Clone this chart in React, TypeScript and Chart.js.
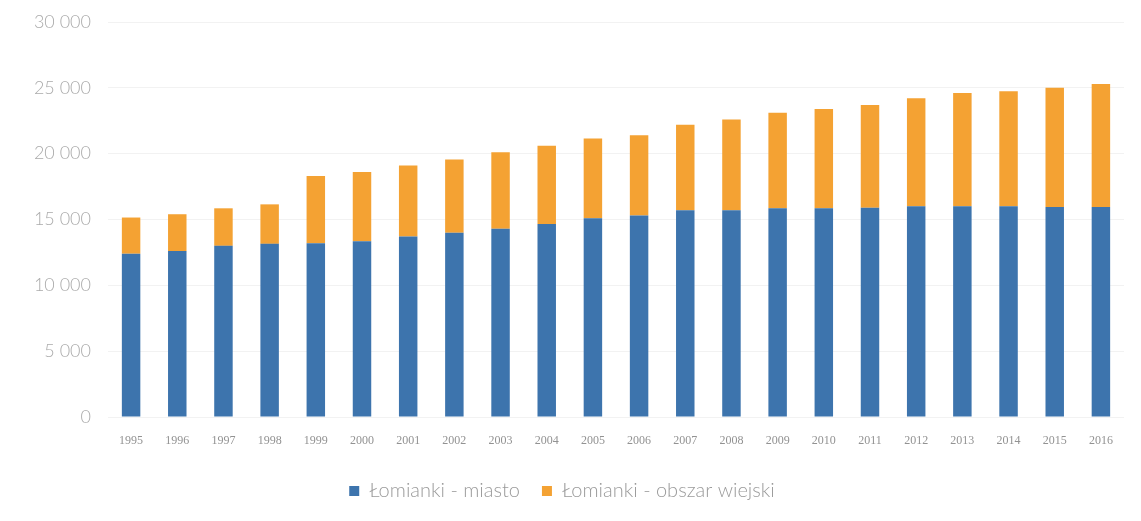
import React, { useEffect, useRef } from "react";
import { Chart, registerables } from "chart.js";

Chart.register(...registerables);

const years = ["1995","1996","1997","1998","1999","2000","2001","2002","2003","2004","2005","2006","2007","2008","2009","2010","2011","2012","2013","2014","2015","2016"];
const miasto = [12400, 12600, 13000, 13150, 13200, 13350, 13700, 14000, 14300, 14650, 15100, 15300, 15700, 15700, 15850, 15850, 15900, 16000, 16000, 16000, 15950, 15950];
const obszarWiejski = [2750, 2800, 2850, 3000, 5100, 5250, 5400, 5550, 5800, 5950, 6050, 6100, 6500, 6900, 7250, 7550, 7800, 8200, 8600, 8750, 9050, 9350];
const seriesNames = ["Łomianki - miasto", "Łomianki - obszar wiejski"];
const yMax = 30000;
const yStep = 5000;

function fmt(v: number): string {
  return String(v).replace(/\B(?=(\d{3})+(?!\d))/g, " ");
}

export default function App() {
  const ref = useRef<HTMLCanvasElement | null>(null);
  useEffect(() => {
    document.body.style.margin = "0";
    const ctx = ref.current!;
    const chart = new Chart(ctx, {
      type: "bar",
      data: {
        labels: years,
        datasets: [
          { label: seriesNames[0], data: miasto, backgroundColor: "#3d74ad", categoryPercentage: 1, barPercentage: 0.4 },
          { label: seriesNames[1], data: obszarWiejski, backgroundColor: "#f4a233", categoryPercentage: 1, barPercentage: 0.4 },
        ],
      },
      options: {
        animation: false,
        responsive: false,
        devicePixelRatio: 1,
        layout: { padding: { top: 22, right: 17, bottom: 10, left: 0 } },
        plugins: {
          tooltip: { enabled: false },
          legend: {
            position: "bottom",
            labels: {
              boxWidth: 10,
              boxHeight: 10,
              padding: 22,
              color: "#9a9a9a",
              font: { family: "Lato", size: 20, weight: 300 },
            },
          },
        },
        scales: {
          x: {
            stacked: true,
            grid: { display: false },
            border: { display: false },
            ticks: {
              color: "#929292",
              padding: 9,
              maxRotation: 0,
              font: { family: "Liberation Serif", size: 12 },
            },
            afterFit: (s: any) => { s.height = 42; },
          },
          y: {
            stacked: true,
            min: 0,
            max: yMax,
            grid: { color: "#f2f2f2", drawTicks: false },
            border: { display: false },
            ticks: {
              stepSize: yStep,
              padding: 17,
              color: "#ababab",
              font: { family: "Lato", size: 18, weight: 300 },
              callback: (v: any) => fmt(Number(v)),
            },
            afterFit: (s: any) => { s.width = 108; s.paddingTop = 0; s.paddingBottom = 0; },
          },
        },
      },
    });
    return () => chart.destroy();
  }, []);
  return (
    <div style={{ width: 1141, height: 521, background: "#fff" }}>
      <canvas ref={ref} width={1141} height={521} style={{ display: "block" }} />
    </div>
  );
}
